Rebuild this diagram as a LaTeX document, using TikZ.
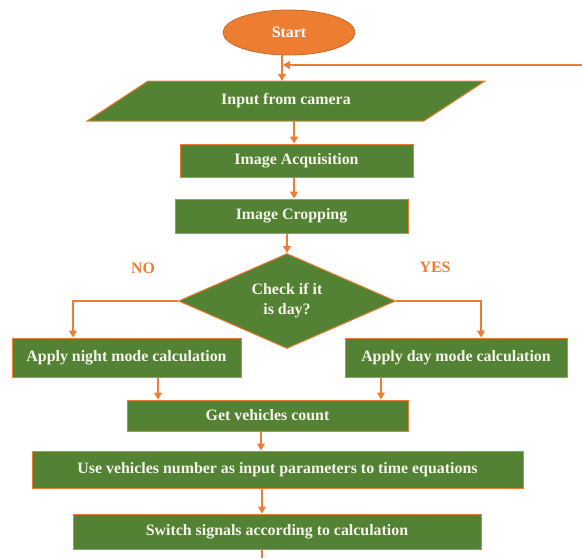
\documentclass[tikz,border=0pt]{standalone}
\usepackage{fontspec}
\setmainfont{Liberation Serif}
\usetikzlibrary{shapes.geometric,arrows.meta}
\definecolor{gr}{HTML}{548235}
\definecolor{orn}{HTML}{ED7D31}
\definecolor{txt}{HTML}{F4F4EA}
\begin{document}
\begin{tikzpicture}[x=1pt,y=-1pt,
  lbl/.style={font=\bfseries\fontsize{15.9}{20}\selectfont},
  box/.style={lbl, draw=orn, line width=1pt, fill=gr, text=txt, inner sep=0pt, align=center},
  arr/.style={draw=orn, line width=1.3pt, -{Triangle[width=8pt,length=7pt]}},
  ln/.style={draw=orn, line width=1.3pt},
  yn/.style={lbl, text=orn}]
\useasboundingbox (0,0) rectangle (582,558);
% start
\node[lbl, ellipse, fill=orn, draw=orn!85!black, line width=0.8pt, text=white, minimum width=132pt, minimum height=45pt, inner sep=0pt] (start) at (289,32.5) {Start};
% input parallelogram
\draw[line width=1pt, draw=orn, fill=gr] (87,121) -- (148,81) -- (485,81) -- (424,121) -- cycle;
\node[lbl, text=txt, minimum width=337pt, minimum height=40pt, inner sep=0pt] (inp) at (286,101) {Input from camera};
\node[box, minimum width=233pt, minimum height=33pt] (acq) at (296.5,160.5) {Image Acquisition};
\node[box, minimum width=233pt, minimum height=34pt] (crop) at (291.5,216) {Image Cropping};
\node[box, diamond, minimum width=217pt, minimum height=95pt, aspect=2.28] (dia) at (287,301) {Check if it\\is day?};
\node[box, minimum width=229pt, minimum height=39pt] (night) at (126.5,357.5) {Apply night mode calculation};
\node[box, minimum width=222pt, minimum height=39pt] (day) at (456,357.5) {Apply day mode calculation};
\node[box, minimum width=281pt, minimum height=31pt] (get) at (267.5,415.5) {Get vehicles count};
\node[box, minimum width=491pt, minimum height=37pt] (use) at (277.5,469.5) {Use vehicles number as input parameters to time equations};
\node[box, minimum width=408pt, minimum height=35pt] (sw) at (277,531.5) {Switch signals according to calculation};
\node[yn] (no) at (143,268) {NO};
\node[yn] (yes) at (435,267) {YES};
\coordinate (fbr) at (582,65);
\coordinate (fbl) at (283,65);
\coordinate (endb) at (262,558);
% connectors
\draw[arr] ([xshift=-7pt]start.south) -- ([xshift=-7pt]start.south |- inp.north);
\draw[arr] (fbr) -- (fbl);
\draw[arr] ([xshift=8pt]inp.south) -- ([xshift=8pt]inp.south |- acq.north);
\draw[arr] ([xshift=-2.5pt]acq.south) -- ([xshift=-2.5pt]acq.south |- crop.north);
\draw[arr] (crop.south -| dia.north) -- (dia.north);
\draw[arr] (dia.west) -| ([xshift=-53.5pt]night.north);
\draw[arr] (dia.east) -| ([xshift=25pt]day.north);
\draw[arr] ([xshift=31.5pt]night.south) -- ([xshift=31.5pt]night.south |- get.north);
\draw[arr] ([xshift=-75pt]day.south) -- ([xshift=-75pt]day.south |- get.north);
\draw[arr] ([xshift=-6.5pt]get.south) -- ([xshift=-6.5pt]get.south |- use.north);
\draw[arr] ([xshift=-15.5pt]use.south) -- ([xshift=-15.5pt]use.south |- sw.north);
\draw[ln] (sw.south -| endb) -- (endb);
\end{tikzpicture}
\end{document}
